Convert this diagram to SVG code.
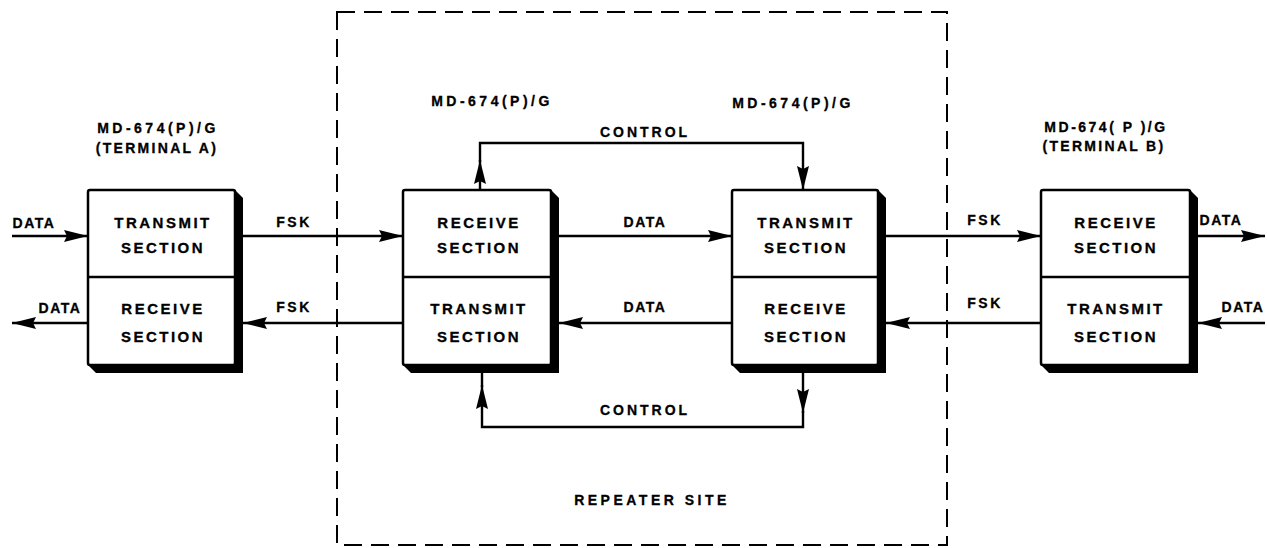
<svg xmlns="http://www.w3.org/2000/svg" width="1267" height="548" viewBox="0 0 1267 548">
<style>
.bg{fill:#fff}
.box{fill:#fff;stroke:#000;stroke-width:2.5}
.sh{fill:#000}
.div{stroke:#000;stroke-width:2.5}
.bt{font-family:"Liberation Sans",Arial,sans-serif;font-weight:bold;font-size:15px;letter-spacing:2.5px;text-anchor:middle;fill:#000;stroke:#000;stroke-width:0.3}
.lb{font-family:"Liberation Sans",Arial,sans-serif;font-weight:bold;font-size:14px;text-anchor:middle;fill:#000;stroke:#000;stroke-width:0.3}
.ln{fill:none;stroke:#000;stroke-width:2.4}
.dash{fill:none;stroke:#000;stroke-width:2}
</style>
<defs>
<marker id="ah" markerUnits="userSpaceOnUse" markerWidth="26" markerHeight="14" refX="24" refY="7" orient="auto">
<path d="M0,1 L24,7 L0,13 L3,7 z" fill="#000"/>
</marker>
</defs>
<rect class="bg" x="0" y="0" width="1267" height="548"/>

<g id="repeater-site">
<rect class="dash" x="337" y="12" width="610" height="533" stroke-dasharray="18 9"/>
<text class="lb" x="652" y="505" style="letter-spacing:3.5px">REPEATER SITE</text>
</g>

<g id="terminal-a">
<polygon class="sh" points="235,190 243,198 243,373 96,373 88,365 235,365"/>
<rect class="box" x="88" y="190" width="147" height="175" rx="2"/>
<line class="div" x1="88" y1="277" x2="235" y2="277"/>
<text class="bt" x="163" y="227.5">TRANSMIT</text>
<text class="bt" x="163" y="252.5">SECTION</text>
<text class="bt" x="163" y="313.5">RECEIVE</text>
<text class="bt" x="163" y="341.5">SECTION</text>
<text class="lb" x="158" y="133" style="letter-spacing:3.5px">MD-674(P)/G</text>
<text class="lb" x="157" y="153" style="letter-spacing:2.3px">(TERMINAL A)</text>
</g>

<g id="repeater-1">
<polygon class="sh" points="551,190 559,198 559,373 411,373 403,365 551,365"/>
<rect class="box" x="403" y="190" width="148" height="175" rx="2"/>
<line class="div" x1="403" y1="277" x2="551" y2="277"/>
<text class="bt" x="479" y="227.5">RECEIVE</text>
<text class="bt" x="479" y="252.5">SECTION</text>
<text class="bt" x="479" y="313.5">TRANSMIT</text>
<text class="bt" x="479" y="341.5">SECTION</text>
<text class="lb" x="492" y="106" style="letter-spacing:3.5px">MD-674(P)/G</text>
</g>

<g id="repeater-2">
<polygon class="sh" points="878,190 886,198 886,373 740,373 732,365 878,365"/>
<rect class="box" x="732" y="190" width="146" height="175" rx="2"/>
<line class="div" x1="732" y1="277" x2="878" y2="277"/>
<text class="bt" x="806" y="227.5">TRANSMIT</text>
<text class="bt" x="806" y="252.5">SECTION</text>
<text class="bt" x="806" y="313.5">RECEIVE</text>
<text class="bt" x="806" y="341.5">SECTION</text>
<text class="lb" x="793" y="108" style="letter-spacing:3.5px">MD-674(P)/G</text>
</g>

<g id="terminal-b">
<polygon class="sh" points="1190,190 1198,198 1198,373 1049,373 1041,365 1190,365"/>
<rect class="box" x="1041" y="190" width="149" height="175" rx="2"/>
<line class="div" x1="1041" y1="277" x2="1190" y2="277"/>
<text class="bt" x="1116" y="227.5">RECEIVE</text>
<text class="bt" x="1116" y="252.5">SECTION</text>
<text class="bt" x="1116" y="313.5">TRANSMIT</text>
<text class="bt" x="1116" y="341.5">SECTION</text>
<text class="lb" x="1106" y="132" style="letter-spacing:2.5px">MD-674( P )/G</text>
<text class="lb" x="1104" y="151" style="letter-spacing:2.3px">(TERMINAL B)</text>
</g>

<g id="connectors">
<path class="ln" d="M12,236 H88" marker-end="url(#ah)"/>
<path class="ln" d="M88,323 H12" marker-end="url(#ah)"/>
<path class="ln" d="M243,236 H403" marker-end="url(#ah)"/>
<path class="ln" d="M403,323 H243" marker-end="url(#ah)"/>
<path class="ln" d="M559,236 H732" marker-end="url(#ah)"/>
<path class="ln" d="M732,323 H559" marker-end="url(#ah)"/>
<path class="ln" d="M886,236 H1041" marker-end="url(#ah)"/>
<path class="ln" d="M1041,323 H886" marker-end="url(#ah)"/>
<path class="ln" d="M1198,236 H1265" marker-end="url(#ah)"/>
<path class="ln" d="M1265,323 H1198" marker-end="url(#ah)"/>
<path class="ln" d="M480,190 V160" marker-end="url(#ah)"/>
<path class="ln" d="M480,162 V143 H803 V190" marker-end="url(#ah)"/>
<path class="ln" d="M803,373 V413" marker-end="url(#ah)"/>
<path class="ln" d="M803,411 V427 H482 V385" marker-end="url(#ah)"/>
<path class="ln" d="M482,387 V373"/>
<text class="lb" x="34" y="228" style="letter-spacing:1.5px">DATA</text>
<text class="lb" x="60" y="313" style="letter-spacing:1.5px">DATA</text>
<text class="lb" x="294" y="227" style="letter-spacing:2.5px">FSK</text>
<text class="lb" x="294" y="312" style="letter-spacing:2.5px">FSK</text>
<text class="lb" x="645" y="227" style="letter-spacing:1.5px">DATA</text>
<text class="lb" x="645" y="312" style="letter-spacing:1.5px">DATA</text>
<text class="lb" x="985" y="225" style="letter-spacing:2.5px">FSK</text>
<text class="lb" x="985" y="308" style="letter-spacing:2.5px">FSK</text>
<text class="lb" x="1221" y="225" style="letter-spacing:1.5px">DATA</text>
<text class="lb" x="1243" y="312" style="letter-spacing:1.5px">DATA</text>
<text class="lb" x="645" y="137" style="letter-spacing:3px">CONTROL</text>
<text class="lb" x="645" y="415" style="letter-spacing:3px">CONTROL</text>
</g>
</svg>
